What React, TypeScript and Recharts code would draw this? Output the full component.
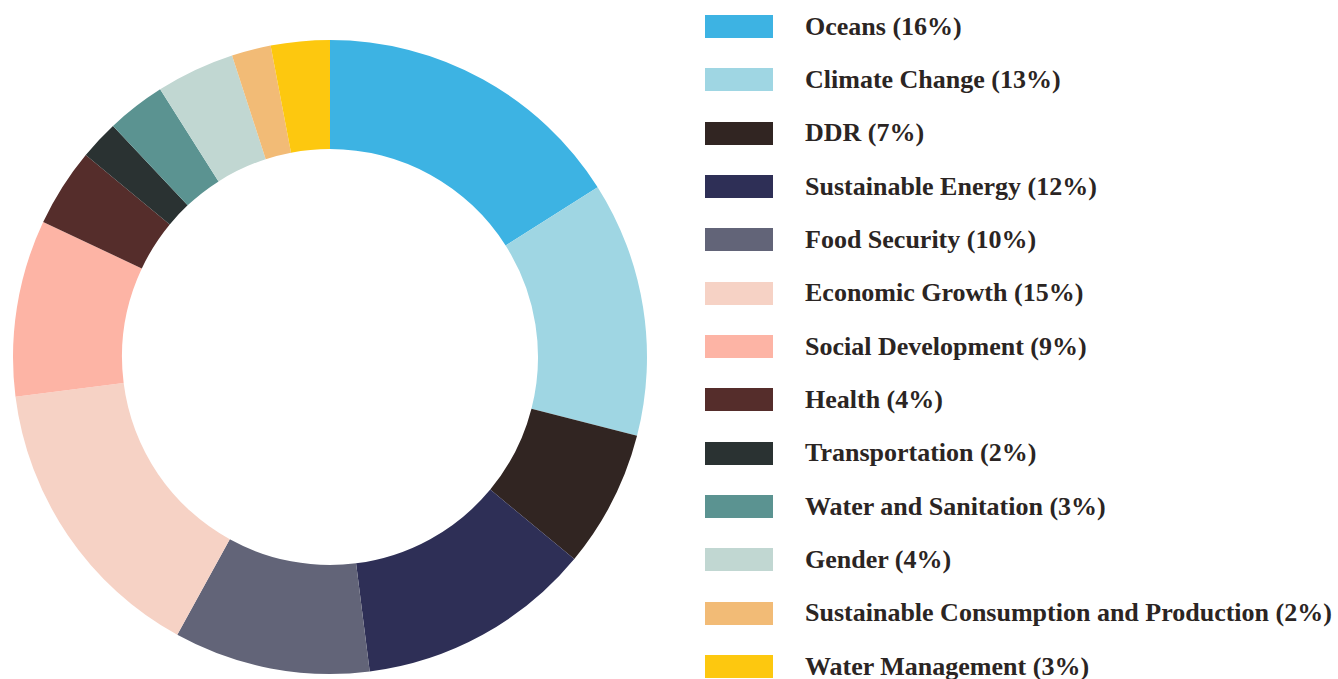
import React from 'react';
import {PieChart, Pie, Cell, Legend} from 'recharts';

const categories = [
	'Oceans', 'Climate Change', 'DDR', 'Sustainable Energy', 'Food Security',
	'Economic Growth', 'Social Development', 'Health', 'Transportation',
	'Water and Sanitation', 'Gender', 'Sustainable Consumption and Production', 'Water Management',
];
const shares = [16, 13, 7, 12, 10, 15, 9, 4, 2, 3, 4, 2, 3];
const colors = [
	'#3db3e3', '#9fd6e3', '#312522', '#2e2f56', '#626478',
	'#f6d2c5', '#fdb4a5', '#552d2b', '#2a3232',
	'#5b9391', '#c1d7d2', '#f2bb76', '#fdc80f',
];

const data = categories.map((name, i) => ({name, value: shares[i]}));

const LegendList = () => (
	<div style={{fontFamily: '"Liberation Serif", serif', fontWeight: 700, fontSize: 26, color: '#2b2523'}}>
		{data.map((d, i) => (
			<div key={d.name} style={{display: 'flex', alignItems: 'center', height: 53.33}}>
				<div style={{width: 68, height: 23, background: colors[i], marginRight: 32, flexShrink: 0}}/>
				<span style={{whiteSpace: 'nowrap'}}>{d.name} ({d.value}%)</span>
			</div>
		))}
	</div>
);

const App = () => {
	return (
		<div style={{position: 'absolute', left: 0, top: 0, width: 1338, height: 679, background: '#fff'}}>
			<PieChart width={1338} height={679} margin={{top: 0, right: 0, bottom: 0, left: 0}}>
				<Pie
					data={data}
					dataKey={'value'}
					cx={330}
					cy={357}
					innerRadius={208}
					outerRadius={317}
					startAngle={90}
					endAngle={-270}
					stroke={'none'}
					isAnimationActive={false}
				>
					{data.map((d, i) => <Cell key={d.name} fill={colors[i]}/>)}
				</Pie>
				<Legend content={<LegendList/>} layout={'vertical'} wrapperStyle={{left: 705, top: 0, width: 633}}/>
			</PieChart>
		</div>
	);
};

export default App;
